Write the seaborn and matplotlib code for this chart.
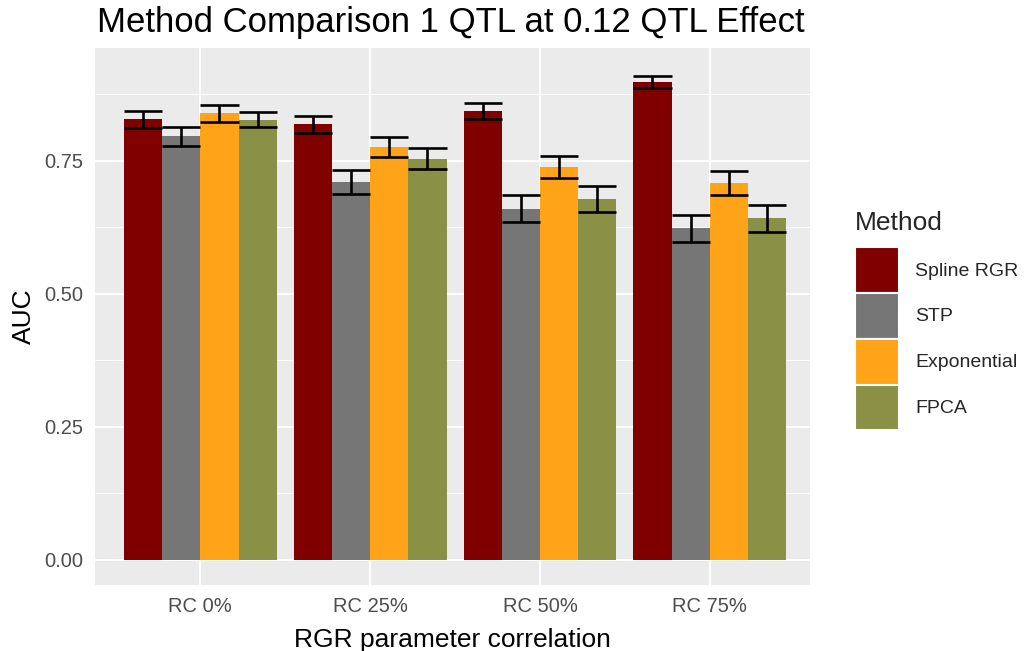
import matplotlib
matplotlib.use("Agg")
import matplotlib.pyplot as plt
import seaborn as sns
import pandas as pd
import numpy as np
from matplotlib.patches import Patch

groups = ["RC 0%", "RC 25%", "RC 50%", "RC 75%"]
methods = ["Spline RGR", "STP", "Exponential", "FPCA"]
spline_auc = [0.828, 0.819, 0.843, 0.898]
stp_auc = [0.796, 0.710, 0.660, 0.623]
exp_auc = [0.839, 0.776, 0.738, 0.708]
fpca_auc = [0.827, 0.754, 0.678, 0.642]
spline_se = [0.016, 0.016, 0.015, 0.011]
stp_se = [0.018, 0.022, 0.025, 0.026]
exp_se = [0.016, 0.018, 0.021, 0.022]
fpca_se = [0.014, 0.020, 0.024, 0.025]
colors = ["#800000", "#767676", "#FFA319", "#8A9045"]

auc = [spline_auc, stp_auc, exp_auc, fpca_auc]
se = [spline_se, stp_se, exp_se, fpca_se]
rows = []
for m, a, s in zip(methods, auc, se):
    for g, v, e in zip(groups, a, s):
        rows.append({"group": g, "Method": m, "AUC": v, "se": e})
df = pd.DataFrame(rows)

sns.set_theme(style="darkgrid")
plt.rcParams['font.family'] = ['Liberation Sans', 'DejaVu Sans']

fig = plt.figure(figsize=(10.26, 6.51), dpi=100)
ax = fig.add_axes([95/1026, 1-585/651, 715/1026, 537/651])
ax.set_facecolor("#EBEBEB")

sns.barplot(data=df, x="group", y="AUC", hue="Method", order=groups, hue_order=methods,
            palette=colors, errorbar=None, width=0.9, saturation=1, linewidth=0, ax=ax, zorder=2)

for mi, m in enumerate(methods):
    cont = ax.containers[mi]
    for bi, bar in enumerate(cont):
        x = bar.get_x() + bar.get_width() / 2
        w = bar.get_width()
        v = auc[mi][bi]
        e = se[mi][bi]
        ax.vlines(x, v - e, v + e, color="black", lw=1.9, zorder=3)
        ax.hlines([v - e, v + e], x - w / 2, x + w / 2, color="black", lw=1.9, zorder=3)

ax.set_xlim(-0.62, 3.59)
ax.set_ylim(-0.047, 0.962)
ax.set_yticks([0, 0.25, 0.5, 0.75])
ax.set_yticklabels(["0.00", "0.25", "0.50", "0.75"])
ax.set_yticks([0.125, 0.375, 0.625, 0.875], minor=True)
ax.grid(which="major", color="white", lw=1.4, zorder=0)
ax.grid(which="minor", axis="y", color="white", lw=0.7, zorder=0)
ax.set_axisbelow(True)
for s in ax.spines.values():
    s.set_visible(False)
ax.tick_params(axis="both", which="major", length=5, width=1.1, color="#333333", labelsize=14.5,
               labelcolor="#4D4D4D", pad=3.5)
ax.tick_params(axis="both", which="minor", length=0)
ax.set_xlabel("RGR parameter correlation", fontsize=19, color="black", va="baseline")
ax.xaxis.set_label_coords(0.5, (585 - 647) / 537)
ax.set_ylabel("AUC", fontsize=19, color="black")
ax.yaxis.set_label_coords((36 - 95) / 715, 0.5)
ax.legend_.remove()

fig.text(97/1026, 1-32/651, "Method Comparison 1 QTL at 0.12 QTL Effect", fontsize=25,
         ha="left", va="baseline", color="black")

handles = [Patch(facecolor=c, edgecolor="white", linewidth=1.5) for c in colors]
leg = fig.legend(handles, methods, title="Method", loc="upper left",
                 bbox_to_anchor=(841/1026, 1-197/651), frameon=False, fontsize=14,
                 title_fontsize=19, handlelength=2.3, handleheight=3.25,
                 labelspacing=0.0, handletextpad=0.8, borderpad=0.2)
leg._legend_box.align = "left"
leg._legend_box.sep = 9

fig.savefig("out.png", dpi=100)
